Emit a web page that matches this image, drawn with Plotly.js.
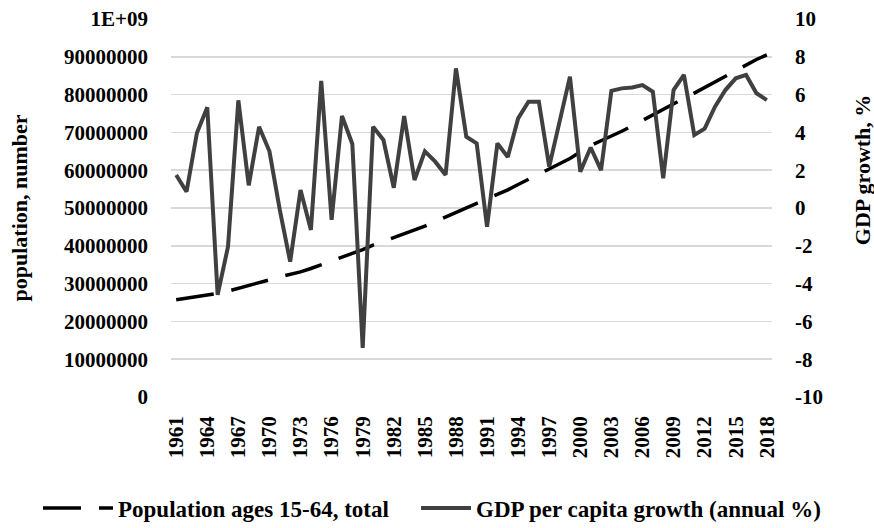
<!DOCTYPE html>
<html>
<head>
<meta charset="utf-8">
<script src="https://cdn.plot.ly/plotly-3.0.1.min.js"></script>
<style>html,body{margin:0;padding:0;background:#fff;}#chart{width:874px;height:528px;}</style>
</head>
<body>
<div id="chart"></div>
<script>
const years = ["1961","1962","1963","1964","1965","1966","1967","1968","1969","1970",
"1971","1972","1973","1974","1975","1976","1977","1978","1979","1980",
"1981","1982","1983","1984","1985","1986","1987","1988","1989","1990",
"1991","1992","1993","1994","1995","1996","1997","1998","1999","2000",
"2001","2002","2003","2004","2005","2006","2007","2008","2009","2010",
"2011","2012","2013","2014","2015","2016","2017","2018"];

// Population ages 15-64, total (millions)
const populationMillions = [25.7,26.1,26.5,27.0,27.4,28.0,28.7,29.5,30.3,31.0,
31.8,32.4,33.1,34.0,35.0,35.9,36.8,37.9,39.0,40.2,
41.2,42.2,43.1,44.1,45.2,46.4,47.6,48.9,50.0,51.1,
52.3,53.5,54.8,56.2,57.6,59.0,60.4,61.8,63.1,64.8,
66.5,67.8,69.0,70.3,71.7,73.2,74.6,76.1,77.5,79.0,
80.4,81.9,83.4,84.9,86.4,87.9,89.3,90.5];

// GDP per capita growth (annual %)
const gdpGrowth = [1.75,0.86,3.97,5.33,-4.6,-2.05,5.7,1.2,4.3,3.0,
-0.1,-2.84,0.95,-1.16,6.72,-0.63,4.87,3.39,-7.4,4.3,
3.6,1.07,4.87,1.48,3.0,2.45,1.75,7.39,3.77,3.42,
-0.99,3.42,2.7,4.74,5.62,5.62,2.19,4.5,6.95,1.92,
3.2,2.0,6.2,6.33,6.38,6.5,6.15,1.57,6.24,7.04,
3.86,4.2,5.36,6.24,6.86,7.04,6.07,5.71];

const leftTickVals = [0,10000000,20000000,30000000,40000000,50000000,60000000,70000000,80000000,90000000,100000000];
const leftTickText = ["0","10000000","20000000","30000000","40000000","50000000","60000000","70000000","80000000","90000000","1E+09"];
const rightTickVals = [-10,-8,-6,-4,-2,0,2,4,6,8,10];
const rightTickText = ["-10","-8","-6","-4","-2","0","2","4","6","8","10"];

const seriesNames = ["Population ages 15-64, total", "GDP per capita growth (annual %)"];
const axisTitles = {left: "population, number", right: "GDP growth, %"};

const population = populationMillions.map(v => v * 1000000);
const yearTicks = years.filter((y, i) => i % 3 === 0);

const FONT = "Liberation Serif, Times New Roman, serif";

const traces = [
  {
    x: years, y: population, name: seriesNames[0], type: "scatter", mode: "lines",
    line: {color: "#000000", width: 3.5, dash: "38px,18px"},
    yaxis: "y", legend: "legend"
  },
  {
    x: years, y: gdpGrowth, name: seriesNames[1], type: "scatter", mode: "lines",
    line: {color: "#404040", width: 4},
    yaxis: "y2", legend: "legend2"
  }
];

const legendFont = {family: FONT, size: 23, color: "#000000", weight: 700};

const layout = {
  width: 874, height: 528,
  margin: {l: 171, r: 102, t: 19, b: 131, autoexpand: false},
  paper_bgcolor: "#ffffff", plot_bgcolor: "#ffffff",
  font: {family: FONT, size: 21, color: "#000000", weight: 700},
  showlegend: true,
  legend: {
    orientation: "h", x: -0.2213, xanchor: "left", y: -0.294, yanchor: "middle",
    font: legendFont, itemwidth: 70, bgcolor: "rgba(0,0,0,0)"
  },
  legend2: {
    orientation: "h", x: 0.4077, xanchor: "left", y: -0.294, yanchor: "middle",
    font: legendFont, itemwidth: 50, bgcolor: "rgba(0,0,0,0)"
  },
  xaxis: {
    type: "category",
    tickmode: "array", tickvals: yearTicks, ticktext: yearTicks,
    tickangle: -90, ticks: "", showgrid: false, zeroline: false, showline: false,
    tickfont: {family: FONT, size: 21, weight: 700},
    ticklabelstandoff: 14,
    range: [-0.5, years.length - 0.5]
  },
  yaxis: {
    range: [0, 100000000], tickmode: "array", tickvals: leftTickVals, ticktext: leftTickText,
    showgrid: true, gridcolor: "#d9d9d9", gridwidth: 1.5, zeroline: false, showline: false,
    ticks: "", ticklabelstandoff: 22,
    tickfont: {family: FONT, size: 21, weight: 700},
    title: {text: axisTitles.left, font: {family: FONT, size: 22, weight: 700}, standoff: 30}
  },
  yaxis2: {
    range: [-10, 10], tickmode: "array", tickvals: rightTickVals, ticktext: rightTickText,
    overlaying: "y", side: "right", showgrid: false, zeroline: false, showline: false,
    ticks: "", ticklabelstandoff: 22,
    tickfont: {family: FONT, size: 21, weight: 700}
  },
  annotations: [
    {
      text: axisTitles.right, xref: "paper", yref: "paper", x: 1, y: 0.6,
      xanchor: "center", yanchor: "middle", xshift: 90, textangle: -90, showarrow: false,
      font: {family: FONT, size: 22, weight: 700, color: "#000000"}
    }
  ]
};

Plotly.newPlot("chart", traces, layout, {displayModeBar: false, staticPlot: true});
</script>
</body>
</html>
